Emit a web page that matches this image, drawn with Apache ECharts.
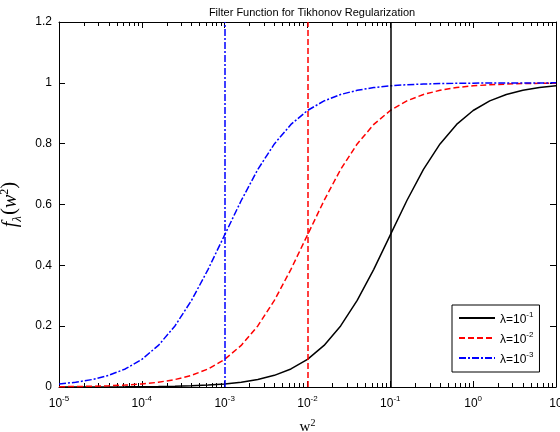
<!DOCTYPE html>
<html>
<head>
<meta charset="utf-8">
<script src="https://cdn.jsdelivr.net/npm/echarts@6/dist/echarts.min.js"></script>
<style>
  html, body { margin: 0; padding: 0; background: #fff; }
  #chart { width: 560px; height: 432px; }
</style>
</head>
<body>
<div id="chart"></div>
<script>
// w^2 sample points (5 per decade)
const wSquared = [
  1e-5, 1.585e-5, 2.512e-5, 3.981e-5, 6.310e-5,
  1e-4, 1.585e-4, 2.512e-4, 3.981e-4, 6.310e-4,
  1e-3, 1.585e-3, 2.512e-3, 3.981e-3, 6.310e-3,
  1e-2, 1.585e-2, 2.512e-2, 3.981e-2, 6.310e-2,
  1e-1, 1.585e-1, 2.512e-1, 3.981e-1, 6.310e-1,
  1, 1.585, 2.512, 3.981, 6.310,
  10
];

// filter values
const fLambda1 = [
  0.0001, 0.0002, 0.0003, 0.0004, 0.0006,
  0.0010, 0.0016, 0.0025, 0.0040, 0.0063,
  0.0099, 0.0156, 0.0245, 0.0383, 0.0593,
  0.0909, 0.1368, 0.2008, 0.2847, 0.3869,
  0.5000, 0.6131, 0.7153, 0.7992, 0.8632,
  0.9091, 0.9406, 0.9617, 0.9755, 0.9844,
  0.9901
];
const fLambda2 = [
  0.0010, 0.0016, 0.0025, 0.0040, 0.0063,
  0.0099, 0.0156, 0.0245, 0.0383, 0.0593,
  0.0909, 0.1368, 0.2008, 0.2847, 0.3869,
  0.5000, 0.6131, 0.7153, 0.7992, 0.8632,
  0.9091, 0.9406, 0.9617, 0.9755, 0.9844,
  0.9901, 0.9937, 0.9960, 0.9975, 0.9984,
  0.9990
];
const fLambda3 = [
  0.0099, 0.0156, 0.0245, 0.0383, 0.0593,
  0.0909, 0.1368, 0.2008, 0.2847, 0.3869,
  0.5000, 0.6131, 0.7153, 0.7992, 0.8632,
  0.9091, 0.9406, 0.9617, 0.9755, 0.9844,
  0.9901, 0.9937, 0.9960, 0.9975, 0.9984,
  0.9990, 0.9994, 0.9996, 0.9997, 0.9998,
  0.9999
];

const lambdas = [1e-1, 1e-2, 1e-3];
const lambdaExp = ['-1', '-2', '-3'];
const seriesNames = ['λ=10^-1', 'λ=10^-2', 'λ=10^-3'];
const yTicks = [0, 0.2, 0.4, 0.6, 0.8, 1, 1.2];

// minor tick positions on the log axis
const minorTicks = [];
for (let d = -5; d < 1; d++) {
  for (let m = 2; m <= 9; m++) minorTicks.push(m * Math.pow(10, d));
}

const colors = ['#000000', '#ff0000', '#0000ff'];
const dashes = ['solid', [6, 3], [7, 2, 2, 2]];
const curves = [fLambda1, fLambda2, fLambda3];

const supRich = {
  base: { fontSize: 12, color: '#000', fontFamily: 'Liberation Sans, Arial', lineHeight: 16, verticalAlign: 'bottom' },
  sup: { fontSize: 8, color: '#000', fontFamily: 'Liberation Sans, Arial', lineHeight: 16, verticalAlign: 'bottom', padding: [0, 0, 7, 0] }
};

function expLabel(v) {
  const e = Math.round(Math.log10(v));
  if (e === 1) return '{base|10}';
  return '{base|10}{sup|' + e + '}';
}

const chart = echarts.init(document.getElementById('chart'), null, { renderer: 'canvas' });

const series = curves.map((vals, i) => ({
  name: seriesNames[i],
  type: 'line',
  xAxisIndex: 0,
  yAxisIndex: 0,
  symbol: 'none',
  smooth: false,
  data: wSquared.map((x, j) => [x, vals[j]]),
  lineStyle: { color: colors[i], width: 1.5, type: dashes[i] },
  itemStyle: { color: colors[i] },
  markLine: {
    silent: true,
    symbol: 'none',
    label: { show: false },
    lineStyle: { color: colors[i], width: 1.5, type: dashes[i] },
    data: [[{ coord: [lambdas[i], 0] }, { coord: [lambdas[i], 1.2] }]]
  }
}));

const logAxisBase = {
  type: 'log',
  logBase: 10,
  min: 1e-5,
  max: 10,
  splitLine: { show: false },
  minorSplitLine: { show: false }
};

const tickStyle = { color: '#000', width: 1 };

chart.setOption({
  animation: false,
  backgroundColor: '#fff',
  title: {
    text: 'Filter Function for Tikhonov Regularization',
    left: 307, top: 2, textAlign: 'center',
    textStyle: { fontSize: 11, fontWeight: 'normal', color: '#000', fontFamily: 'Liberation Sans, Arial' }
  },
  grid: { left: 59, right: 4, top: 22, bottom: 45, containLabel: false, outerBoundsMode: 'none' },
  legend: {
    orient: 'vertical',
    left: 452, top: 305,
    width: 86,
    padding: [6, 6, 6, 6],
    itemGap: 5,
    itemWidth: 36,
    itemHeight: 15,
    backgroundColor: '#fff',
    borderColor: '#000',
    borderWidth: 1,
    itemStyle: { opacity: 0 },
    data: seriesNames,
    formatter: name => {
      const i = seriesNames.indexOf(name);
      return '{base|λ=10}{sup|' + lambdaExp[i] + '}';
    },
    textStyle: { rich: supRich }
  },
  xAxis: [
    Object.assign({}, logAxisBase, {
      position: 'bottom',
      name: '{n|w}{s|2}',
      nameLocation: 'middle',
      nameGap: 30,
      nameTextStyle: {
        rich: {
          n: { fontSize: 15, fontFamily: 'Liberation Serif, Times New Roman', color: '#000', lineHeight: 18, verticalAlign: 'bottom' },
          s: { fontSize: 10, fontFamily: 'Liberation Serif, Times New Roman', color: '#000', lineHeight: 18, verticalAlign: 'bottom', padding: [0, 0, 7, 0] }
        }
      },
      axisLine: { show: true, onZero: false, lineStyle: { color: '#000', width: 1 } },
      axisTick: { show: true, inside: true, length: 6, lineStyle: tickStyle },
      axisLabel: { margin: 7, formatter: expLabel, rich: supRich, showMinLabel: true, showMaxLabel: true }
    }),
    Object.assign({}, logAxisBase, {
      position: 'bottom',
      axisLine: { show: false, onZero: false },
      axisTick: { show: true, inside: true, length: 4, customValues: minorTicks, lineStyle: tickStyle },
      axisLabel: { show: false }
    }),
    Object.assign({}, logAxisBase, {
      position: 'top',
      axisLine: { show: true, onZero: false, lineStyle: { color: '#000', width: 1 } },
      axisTick: { show: true, inside: true, length: 6, lineStyle: tickStyle },
      axisLabel: { show: false }
    }),
    Object.assign({}, logAxisBase, {
      position: 'top',
      axisLine: { show: false, onZero: false },
      axisTick: { show: true, inside: true, length: 4, customValues: minorTicks, lineStyle: tickStyle },
      axisLabel: { show: false }
    })
  ],
  yAxis: [
    {
      type: 'value',
      min: 0, max: 1.2, interval: 0.2,
      position: 'left',
      name: '{f|f}{l|λ}{p|(}{f|w}{s|2}{p|)}',
      nameLocation: 'middle',
      nameGap: 38,
      nameRotate: 90,
      nameTextStyle: {
        rich: {
          f: { fontSize: 20, fontStyle: 'italic', fontFamily: 'Liberation Serif, Times New Roman', color: '#000', lineHeight: 24, verticalAlign: 'bottom' },
          l: { fontSize: 13, fontStyle: 'italic', fontFamily: 'Liberation Serif, Times New Roman', color: '#000', lineHeight: 24, verticalAlign: 'bottom', padding: [0, 1, -4, 0] },
          p: { fontSize: 21, fontFamily: 'Liberation Serif, Times New Roman', color: '#000', lineHeight: 24, verticalAlign: 'bottom' },
          s: { fontSize: 12, fontFamily: 'Liberation Serif, Times New Roman', color: '#000', lineHeight: 24, verticalAlign: 'bottom', padding: [0, 0, 10, 0] }
        }
      },
      splitLine: { show: false },
      axisLine: { show: true, onZero: false, lineStyle: { color: '#000', width: 1 } },
      axisTick: { show: true, inside: true, length: 6, lineStyle: tickStyle },
      axisLabel: {
        margin: 7, color: '#000', fontSize: 12, fontFamily: 'Liberation Sans, Arial',
        formatter: v => {
          const t = yTicks.find(k => Math.abs(k - v) < 1e-9);
          return t === undefined ? '' : String(t);
        }
      }
    },
    {
      type: 'value',
      min: 0, max: 1.2, interval: 0.2,
      position: 'right',
      splitLine: { show: false },
      axisLine: { show: true, onZero: false, lineStyle: { color: '#000', width: 1 } },
      axisTick: { show: true, inside: true, length: 6, lineStyle: tickStyle },
      axisLabel: { show: false }
    }
  ],
  series: series
});
</script>
</body>
</html>
